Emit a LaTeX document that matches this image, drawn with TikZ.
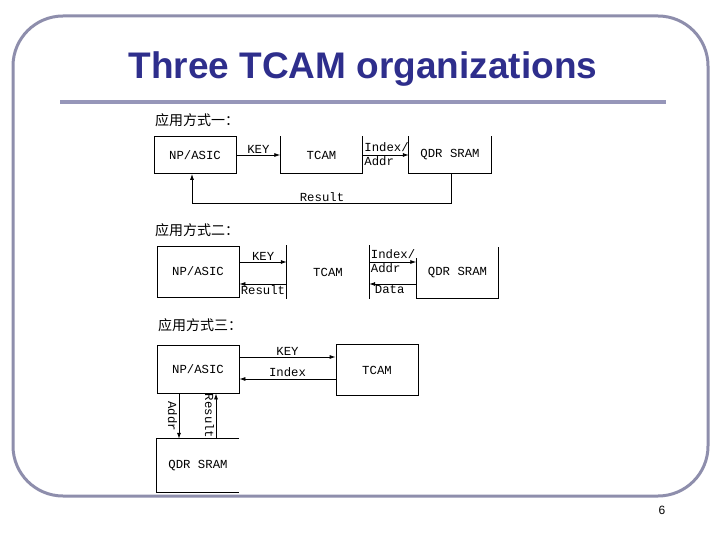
\documentclass[tikz,border=0pt]{standalone}
\usepackage{fontspec}
\setmainfont{Liberation Sans}
\newfontfamily\monof{Liberation Mono}
\newfontfamily\cjkf{Noto Sans CJK SC}
\usetikzlibrary{arrows.meta,calc}
\definecolor{frame}{RGB}{142,142,172}
\definecolor{rulec}{RGB}{150,150,185}
\definecolor{titleblue}{RGB}{46,46,140}
\tikzset{
  boxn/.style={minimum width=82pt,minimum height=#1,inner sep=0pt,font=\monof\fontsize{12.3}{13}\selectfont},
  ln/.style={line width=0.8pt,black},
  arr/.style={ln,-{Latex[length=6pt,width=4pt]}},
  lbl/.style={font=\monof\fontsize{12.3}{13}\selectfont,inner sep=1.5pt},
  cjkl/.style={font=\cjkf\fontsize{14}{15}\selectfont,anchor=west,inner sep=0pt}
}
\begin{document}
\begin{tikzpicture}[x=1pt,y=-1pt]
\useasboundingbox (0,0) rectangle (720,540);
% frame
\draw[frame,line width=3pt,rounded corners=50pt] (13,16) rectangle (708,496);
\node[font=\fontsize{37}{40}\selectfont\bfseries,text=titleblue] (title) at (363,69) {Three TCAM organizations};
\draw[rulec,line width=4pt] (60,102) -- (666,102);
\node[font=\fontsize{12}{14}\selectfont] (pg) at (662,510) {6};

% ---------- diagram 1 ----------
\node[cjkl] (h1) at (155,120) {应用方式一：};
\node[boxn=37pt,draw,ln] (np1) at (195,155) {NP/ASIC};
\node[boxn=37pt] (tc1) at (321.5,155) {TCAM};
\draw[ln] (tc1.north west) -- (tc1.south west) -- (tc1.south east) -- (tc1.north east);
\node[boxn=37pt] (qd1) at (450,155) {QDR SRAM};
\draw[ln] (qd1.north west) -- (qd1.south west) -- (qd1.south east) -- (qd1.north east);
\draw[arr] (np1.east) -- node[lbl,above] (key1) {KEY} (tc1.west);
\draw[arr] (tc1.east) -- (qd1.west);
\node[lbl,anchor=south west,inner ysep=3pt] (ix1) at (tc1.east) {Index/};
\node[lbl,anchor=north west] (ad1) at (tc1.east) {Addr};
\coordinate (r1) at (451,203);
\draw[arr] (qd1.south -| r1) -- (r1) -- (192,203) -- (np1.south -| 192,0);
\node[lbl,anchor=south] (res1) at (322,203) {Result};

% ---------- diagram 2 ----------
\node[cjkl] (h2) at (155,230) {应用方式二：};
\node[boxn=51pt,draw,ln] (np2) at (198,271.5) {NP/ASIC};
\node[boxn=53pt] (tc2) at (328,272) {TCAM};
\draw[ln] (tc2.north west) -- (tc2.south west);
\draw[ln] (tc2.north east) -- (tc2.south east);
\node[boxn=51pt] (qd2) at (457.5,272.5) {QDR SRAM};
\coordinate (k2) at (0,262);
\coordinate (r2) at (0,284);
\draw[ln] (qd2.west |- 0,258) -- (qd2.south west) -- (qd2.south east) -- (qd2.north east);
\draw[arr] (np2.east |- k2) -- node[lbl,above] (key2) {KEY} (tc2.west |- k2);
\draw[arr] (tc2.west |- r2) -- (np2.east |- r2);
\node[lbl,anchor=north east] (res2) at (tc2.west |- r2) {Result};
\draw[arr] (tc2.east |- k2) -- (qd2.west |- k2);
\node[lbl,anchor=south west,inner ysep=3pt] (ix2) at (tc2.east |- k2) {Index/};
\node[lbl,anchor=north west] (ad2) at (tc2.east |- k2) {Addr};
\draw[arr] (qd2.west |- r2) -- (tc2.east |- r2);
\node[lbl,anchor=north west] (dt2) at ($(tc2.east |- r2)+(4,0)$) {Data};

% ---------- diagram 3 ----------
\node[cjkl] (h3) at (158,325) {应用方式三：};
\node[boxn=48pt,draw,ln] (np3) at (198,369) {NP/ASIC};
\node[boxn=51pt,draw,ln] (tc3) at (377,370) {TCAM};
\node[boxn=53pt] (qd3) at (198,465.5) {QDR SRAM};
\draw[ln] (qd3.north east) -- (qd3.north west) -- (qd3.south west) -- (qd3.south east);
\coordinate (k3) at (0,357);
\coordinate (i3) at (0,379);
\draw[arr] (np3.east |- k3) -- node[lbl,above] (key3) {KEY} (tc3.west |- k3);
\draw[arr] (tc3.west |- i3) -- node[lbl,above] (ix3) {Index} (np3.east |- i3);
\coordinate (a3) at (179,0);
\coordinate (s3) at (216,0);
\draw[arr] (np3.south -| a3) -- node[lbl,rotate=-90,below] (ad3) {Addr} (qd3.north -| a3);
\draw[arr] (qd3.north -| s3) -- node[lbl,rotate=-90,below] (rs3) {Result} (np3.south -| s3);
\end{tikzpicture}
\end{document}
